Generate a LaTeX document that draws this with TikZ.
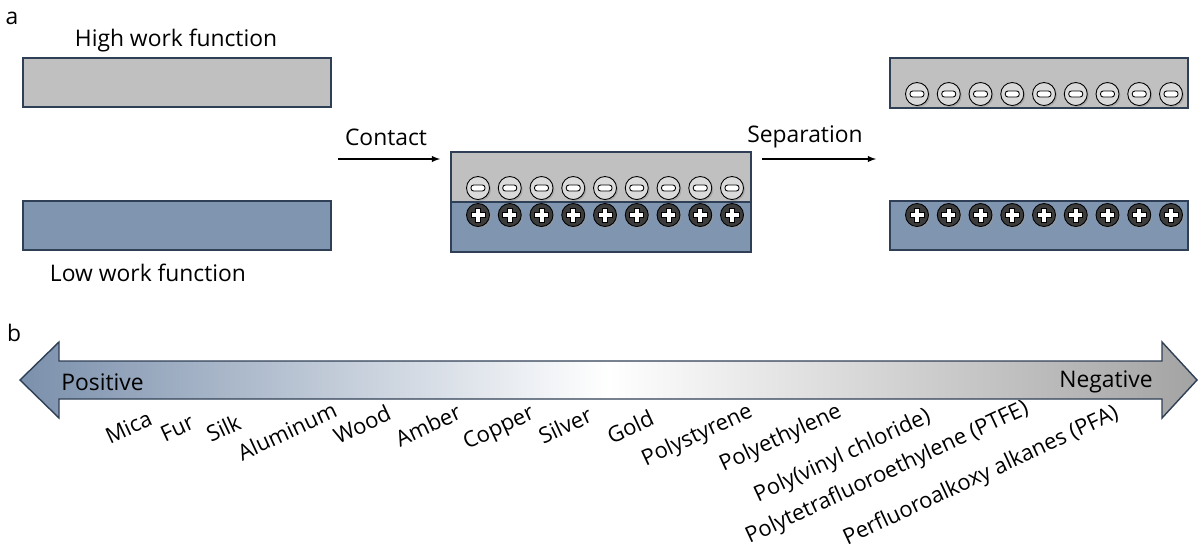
\documentclass[tikz,border=0pt]{standalone}
\usepackage{fontspec}
\setmainfont{Open Sans}
\usepackage{tikz}
\usetikzlibrary{calc}
\definecolor{plategray}{HTML}{C0C0C0}
\definecolor{plateblue}{HTML}{7F95B0}
\definecolor{plateedge}{HTML}{2F3F55}
\definecolor{negfill}{HTML}{DADADA}
\definecolor{posfill}{HTML}{3C3C3C}
\definecolor{serleft}{HTML}{7B90AC}
\definecolor{serright}{HTML}{A3A3A3}
\tikzset{
  plate/.style={draw=plateedge, line width=0.8pt},
  txt/.style={inner sep=0pt, font=\fontsize{13}{15}\selectfont},
  mat/.style={inner sep=0pt, font=\fontsize{12.5}{15}\selectfont, rotate=25, anchor=base east},
}
\def\minuscharge(#1,#2){%
  \begin{scope}[shift={(#1,#2)}]
    \fill[black!40, opacity=.6] (1.5,1.5) circle (11.5);
    \draw[fill=negfill, line width=0.5pt] (0,0) circle (11.5);
    \draw[fill=white, rounded corners=1.5, line width=0.5pt] (-7,-3) rectangle (7,3);
  \end{scope}}
\def\pluscharge(#1,#2){%
  \begin{scope}[shift={(#1,#2)}]
    \fill[black!40, opacity=.6] (1.5,1.5) circle (11.5);
    \draw[fill=posfill, line width=0.5pt] (0,0) circle (11.5);
    \draw[fill=white, line width=0.4pt] (-2.5,-7) -- (2.5,-7) -- (2.5,-2.5) -- (7,-2.5) -- (7,2.5) -- (2.5,2.5)
      -- (2.5,7) -- (-2.5,7) -- (-2.5,2.5) -- (-7,2.5) -- (-7,-2.5) -- (-2.5,-2.5) -- cycle;
  \end{scope}}
\begin{document}
\begin{tikzpicture}[x=0.02cm, y=-0.02cm]
			%%%%% PANEL A %%%%%
			\useasboundingbox (0,0) rectangle (1199,552);
			
			\node[txt] (panelA) at (12,18) {a};
			\node[txt] (highWF) at (176,40) {High work function};
			\draw[plate, fill=plategray] (23,58) rectangle (331,107);
			\draw[plate, fill=plateblue] (23,201) rectangle (331,250);
			\node[txt] (lowWF) at (148,273) {Low work function};
			
			% contact
			\node[txt] (contact) at (386,137) {Contact};
			\coordinate (contactS) at (338,159);
			\coordinate (contactE) at (440,159);
			\draw[-latex, line width=0.6pt] (contactS) -- (contactE);
			
			\draw[plate, fill=plategray] (451,152) rectangle (751,202);
			\draw[plate, fill=plateblue] (451,202) rectangle (751,252);
			\foreach \i in {0,...,8} {
				\pgfmathsetmacro\cx{478+31.75*\i}
				\minuscharge(\cx,188)
				\pluscharge(\cx,215)
			}
			
			% separation
			\node[txt] (separation) at (805,137) {Separation};
			\coordinate (sepS) at (762,159);
			\coordinate (sepE) at (876,159);
			\draw[-latex, line width=0.6pt] (sepS) -- (sepE);
			
			\draw[plate, fill=plategray] (890,58) rectangle (1188,108);
			\draw[plate, fill=plateblue] (890,201) rectangle (1188,250);
			\foreach \i in {0,...,8} {
				\pgfmathsetmacro\cx{917+31.75*\i}
				\minuscharge(\cx,94)
				\pluscharge(\cx,215)
			}
			
			%%%%% PANEL B %%%%%
			\node[txt] (panelB) at (14,333) {b};
			\path[draw=plateedge, line width=0.8pt, left color=serleft, right color=serright, middle color=white]
				(20,380) -- (59,342) -- (59,361) -- (1162,361) -- (1162,342) -- (1197,380)
				-- (1162,418) -- (1162,399) -- (59,399) -- (59,418) -- cycle;
			\node[txt, anchor=west] (positive) at (61,382) {Positive};
			\node[txt, anchor=east] (negative) at (1153,382) {Negative};
			
			\foreach \x/\y/\t [count=\k] in {154/424/Mica, 196/428/Fur, 243/428/Silk,
				339/416/Aluminum, 393/419/Wood, 463/418/Amber, 536/418/Copper,
				594/421/Silver, 656/424/Gold, 754/416/Polystyrene, 843/416/Polyethylene,
				932/421/Poly(vinyl chloride), 1030/413/Polytetrafluoroethylene (PTFE),
				1120/418/Perfluoroalkoxy alkanes (PFA)}
				\node[mat] (mat\k) at (\x,\y) {\t};
			
		\end{tikzpicture}
\end{document}
